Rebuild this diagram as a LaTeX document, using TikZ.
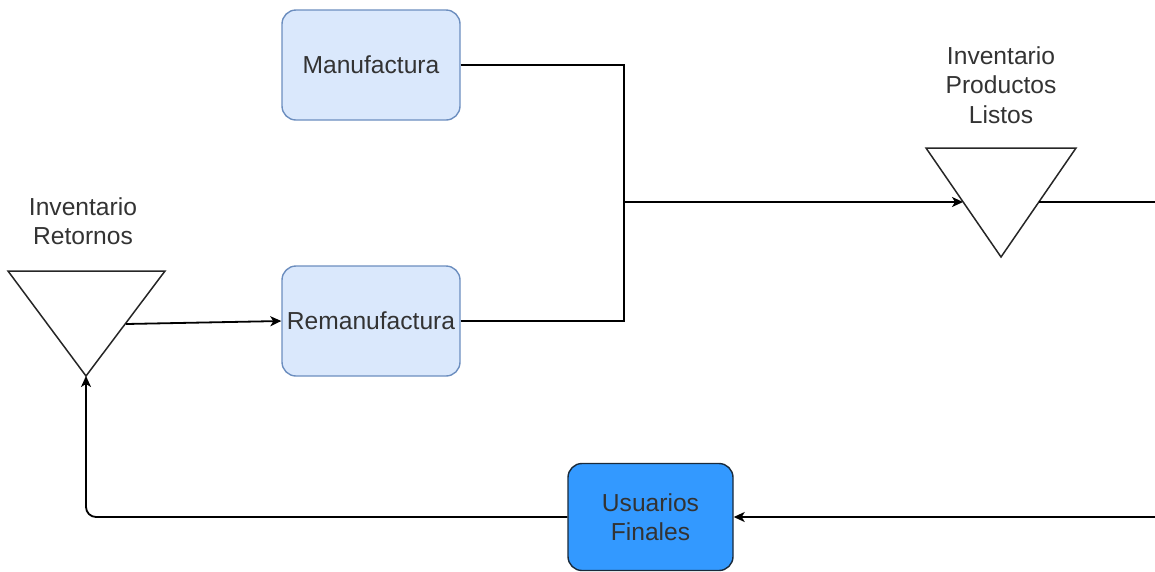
\documentclass[tikz,border=0pt]{standalone}
\usepackage{fontspec}
\setmainfont{Liberation Sans}
\usetikzlibrary{arrows.meta}
\definecolor{lightfill}{HTML}{DAE8FC}
\definecolor{lightstroke}{HTML}{6C8EBF}
\definecolor{darkfill}{HTML}{3399FF}
\definecolor{darkstroke}{HTML}{1A2A3A}
\definecolor{txt}{HTML}{333333}
\tikzset{
  procbox/.style={draw=lightstroke, fill=lightfill, line width=1.4pt, rounded corners=14pt,
    minimum width=178pt, minimum height=110pt, inner sep=2pt, text=txt,
    font=\fontsize{24.6}{29.5}\selectfont, align=center},
  userbox/.style={procbox, draw=darkstroke, fill=darkfill, minimum width=165pt, minimum height=107pt},
  lbl/.style={font=\fontsize{24.6}{29.5}\selectfont, align=center, text=txt},
  tri/.style={draw=black!85, line width=1.5pt, line join=miter},
  conn/.style={draw=black, line width=1.8pt},
  arr/.style={conn, -{Stealth[length=11pt,width=10pt,inset=3pt]}}
}
\begin{document}
\begin{tikzpicture}[x=1pt,y=-1pt]
\useasboundingbox (0,0) rectangle (1155,571);
% boxes
\node[procbox] (manu) at (371,65) {Manufactura};
\node[procbox] (reman) at (371,321) {Remanufactura};
\node[userbox] (usu) at (650.5,517) {Usuarios\\Finales};
% triangles
\draw[tri] (8,271) -- (165,271) -- (86,376) -- cycle;
\draw[tri] (926,148) -- (1076,148) -- (1001,257) -- cycle;
\coordinate (lapex) at (86,376);
\coordinate (lout) at (126,324);
\coordinate (rin) at (963,202);
\coordinate (rout) at (1039,202);
\node[lbl] (lret) at (83,221) {Inventario\\Retornos};
\node[lbl] (lprod) at (1001,85) {Inventario\\Productos\\Listos};
% connectors
\coordinate (j) at (624,202);
\coordinate (redge) at (1155,202);
\coordinate (redge2) at (1155,517);
\draw[conn] (manu.east) -| (j);
\draw[conn] (reman.east) -| (j);
\draw[arr] (j) -- (rin);
\draw[conn] (rout) -- (redge);
\draw[arr] (redge2) -- (usu.east);
\draw[arr, rounded corners=10pt] (usu.west) -| (lapex);
\draw[arr] (lout) -- (reman.west);
\end{tikzpicture}
\end{document}
